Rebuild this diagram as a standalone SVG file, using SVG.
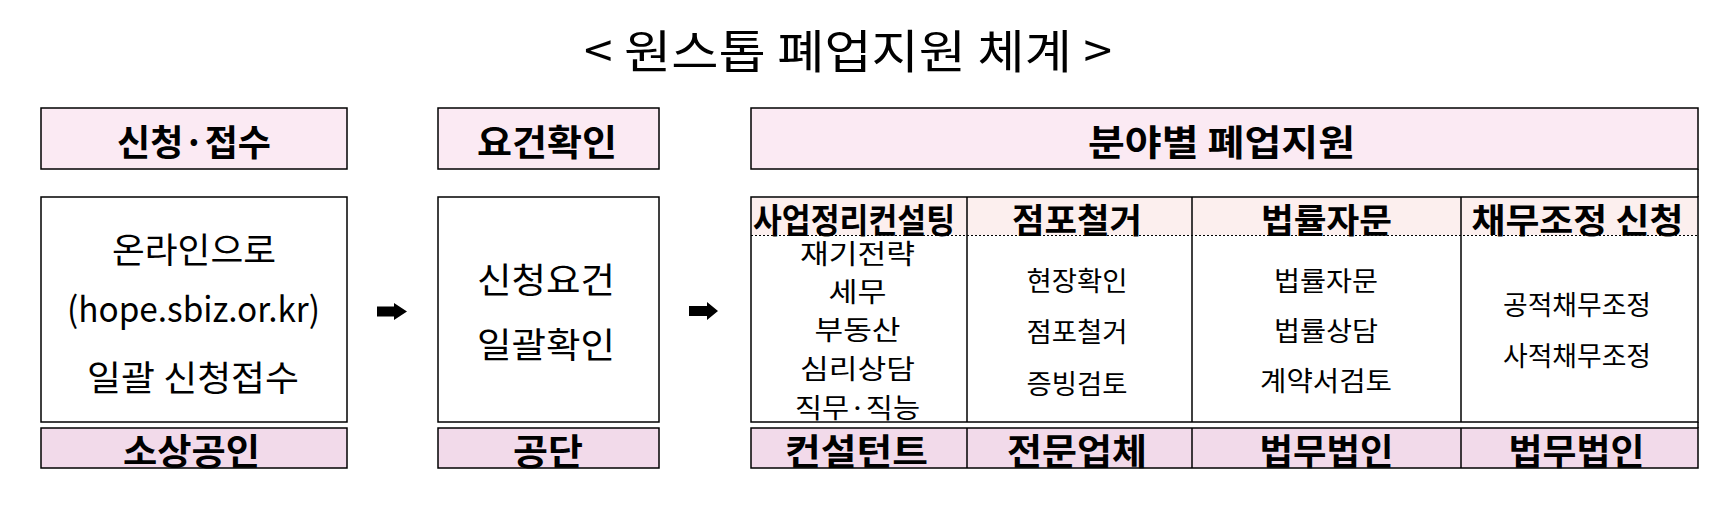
<svg xmlns="http://www.w3.org/2000/svg" width="1734" height="506" viewBox="0 0 1734 506">
<defs>
<style>
text{font-family:"Noto Sans CJK KR","Noto Sans",sans-serif;fill:#000;text-anchor:middle}
.title{font-size:46px;text-anchor:start}
.hd{font-size:36px;font-weight:bold}
.ch{font-size:34px;font-weight:bold}
.ft{font-size:36px;font-weight:bold}
.body{font-size:35px}
.cell{font-size:27px}
.box{fill:#fff;stroke:#000;stroke-width:1.5}
.top{fill:#fbeaf3;stroke:#000;stroke-width:1.5}
.bot{fill:#f2daea;stroke:#000;stroke-width:1.5}
.line{stroke:#000;stroke-width:1.5;fill:none}
.dot{stroke:#000;stroke-width:1;stroke-dasharray:2 2;fill:none}
.arrow{fill:#000}
</style>
<clipPath id="c1"><rect x="751" y="236" width="216" height="186"/></clipPath>
</defs>
<rect width="1734" height="506" fill="#fff"/>
<text class="title" x="584" y="68" textLength="528" lengthAdjust="spacingAndGlyphs">&lt; 원스톱 폐업지원 체계 &gt;</text>

<g id="node-apply">
<rect class="top" x="41" y="108" width="306" height="61"/>
<text class="hd" x="194" y="156" textLength="154" lengthAdjust="spacingAndGlyphs">신청·접수</text>
<rect class="box" x="41" y="197" width="306" height="225"/>
<text class="body" x="194" y="263" textLength="164" lengthAdjust="spacingAndGlyphs">온라인으로</text>
<text class="body" x="193.5" y="322" textLength="253" lengthAdjust="spacingAndGlyphs">(hope.sbiz.or.kr)</text>
<text class="body" x="193" y="391" textLength="212" lengthAdjust="spacingAndGlyphs">일괄 신청접수</text>
<rect class="bot" x="41" y="428" width="306" height="40"/>
<text class="ft" x="191.5" y="465" textLength="137" lengthAdjust="spacingAndGlyphs">소상공인</text>
</g>

<g id="node-check">
<rect class="top" x="438" y="108" width="221" height="61"/>
<text class="hd" x="547" y="156" textLength="140" lengthAdjust="spacingAndGlyphs">요건확인</text>
<rect class="box" x="438" y="197" width="221" height="225"/>
<text class="body" x="546" y="293" textLength="138" lengthAdjust="spacingAndGlyphs">신청요건</text>
<text class="body" x="546" y="358" textLength="138" lengthAdjust="spacingAndGlyphs">일괄확인</text>
<rect class="bot" x="438" y="428" width="221" height="40"/>
<text class="ft" x="548" y="465" textLength="70" lengthAdjust="spacingAndGlyphs">공단</text>
</g>

<g id="node-support">
<rect class="top" x="751" y="108" width="947" height="61"/>
<text class="hd" x="1221.5" y="156" textLength="267" lengthAdjust="spacingAndGlyphs">분야별 폐업지원</text>
<line class="line" x1="1698" y1="169" x2="1698" y2="197"/>
<rect class="box" x="751" y="197" width="947" height="225"/>
<rect x="752" y="198" width="945" height="37" fill="#fcefee"/>
<line class="dot" x1="751" y1="235.5" x2="1698" y2="235.5"/>
<line class="line" x1="967" y1="197" x2="967" y2="422"/>
<line class="line" x1="1192" y1="197" x2="1192" y2="422"/>
<line class="line" x1="1461" y1="197" x2="1461" y2="422"/>
<line class="line" x1="1698" y1="422" x2="1698" y2="428"/>
<text class="ch" x="854" y="233" textLength="202" lengthAdjust="spacingAndGlyphs">사업정리컨설팅</text>
<text class="ch" x="1077" y="233" textLength="130" lengthAdjust="spacingAndGlyphs">점포철거</text>
<text class="ch" x="1326.5" y="233" textLength="131" lengthAdjust="spacingAndGlyphs">법률자문</text>
<text class="ch" x="1577.5" y="233" textLength="212" lengthAdjust="spacingAndGlyphs">채무조정 신청</text>
<g clip-path="url(#c1)">
<text class="cell" x="857.5" y="264" textLength="115" lengthAdjust="spacingAndGlyphs">재기전략</text>
<text class="cell" x="857.5" y="302" textLength="58" lengthAdjust="spacingAndGlyphs">세무</text>
<text class="cell" x="857.5" y="340" textLength="86" lengthAdjust="spacingAndGlyphs">부동산</text>
<text class="cell" x="857.5" y="379" textLength="115" lengthAdjust="spacingAndGlyphs">심리상담</text>
<text class="cell" x="857.5" y="418" textLength="125" lengthAdjust="spacingAndGlyphs">직무·직능</text>
</g>
<text class="cell" x="1077" y="291" textLength="101" lengthAdjust="spacingAndGlyphs">현장확인</text>
<text class="cell" x="1077" y="342" textLength="101" lengthAdjust="spacingAndGlyphs">점포철거</text>
<text class="cell" x="1077" y="394" textLength="101" lengthAdjust="spacingAndGlyphs">증빙검토</text>
<text class="cell" x="1326" y="291" textLength="104" lengthAdjust="spacingAndGlyphs">법률자문</text>
<text class="cell" x="1326" y="341" textLength="104" lengthAdjust="spacingAndGlyphs">법률상담</text>
<text class="cell" x="1326" y="391" textLength="132" lengthAdjust="spacingAndGlyphs">계약서검토</text>
<text class="cell" x="1577" y="315" textLength="148" lengthAdjust="spacingAndGlyphs">공적채무조정</text>
<text class="cell" x="1577" y="366" textLength="148" lengthAdjust="spacingAndGlyphs">사적채무조정</text>
<rect class="bot" x="751" y="428" width="947" height="40"/>
<line class="line" x1="967" y1="428" x2="967" y2="468"/>
<line class="line" x1="1192" y1="428" x2="1192" y2="468"/>
<line class="line" x1="1461" y1="428" x2="1461" y2="468"/>
<text class="ft" x="856.5" y="465" textLength="143" lengthAdjust="spacingAndGlyphs">컨설턴트</text>
<text class="ft" x="1077" y="465" textLength="140" lengthAdjust="spacingAndGlyphs">전문업체</text>
<text class="ft" x="1326.5" y="465" textLength="134" lengthAdjust="spacingAndGlyphs">법무법인</text>
<text class="ft" x="1576.5" y="465" textLength="136" lengthAdjust="spacingAndGlyphs">법무법인</text>
</g>

<g id="connectors">
<polygon class="arrow" points="377,306.5 394,306.5 394,303 407,311.5 394,320 394,316.5 377,316.5"/>
<polygon class="arrow" points="689,306 707,306 707,302 718,311 707,320 707,316 689,316"/>
</g>
</svg>
